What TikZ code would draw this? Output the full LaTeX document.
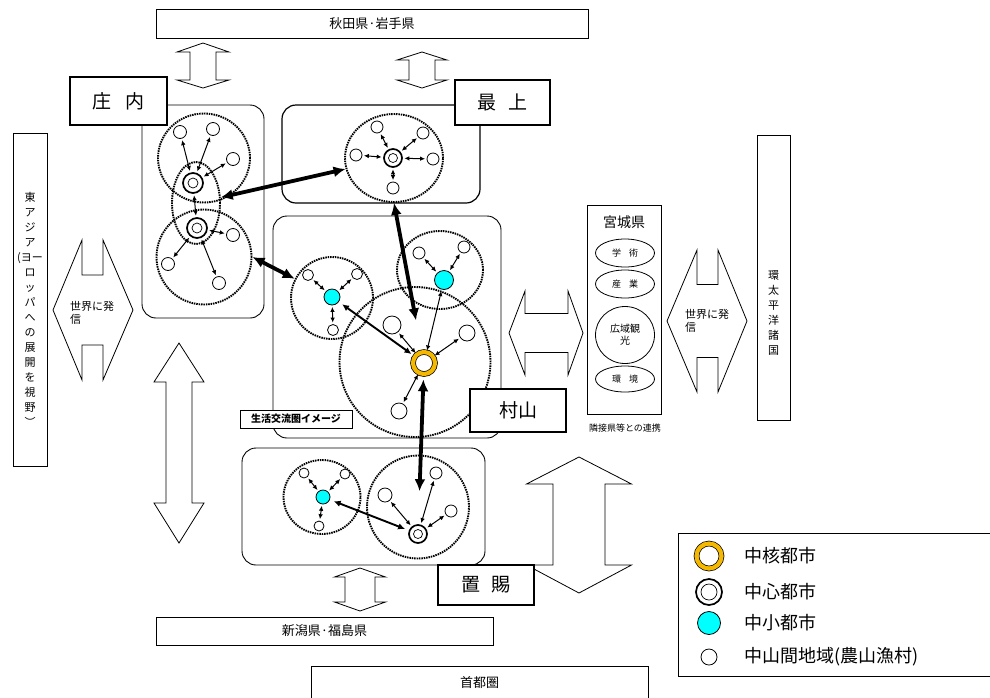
\documentclass[tikz,border=0pt]{standalone}
\usepackage{fontspec}
\setmainfont{Noto Sans CJK JP}
\usetikzlibrary{arrows.meta,positioning,shapes.geometric}

\definecolor{coregold}{RGB}{245,184,0}
\definecolor{citycyan}{RGB}{0,255,255}

\newcommand{\fsz}[1]{\fontsize{#1}{#1}\selectfont}
% up-down block arrow: x, shaft half, head half, top tip, top base, bottom base, bottom tip
\newcommand{\udarrow}[7]{%
  \draw[blockarrow] (#1,#4) -- (#1+#3,#5) -- (#1+#2,#5) -- (#1+#2,#6) -- (#1+#3,#6) -- (#1,#7)
    -- (#1-#3,#6) -- (#1-#2,#6) -- (#1-#2,#5) -- (#1-#3,#5) -- cycle;}
% left-right block arrow: y, shaft half, head half, left tip, left base, right base, right tip
\newcommand{\lrarrow}[7]{%
  \draw[blockarrow] (#4,#1) -- (#5,#1-#3) -- (#5,#1-#2) -- (#6,#1-#2) -- (#6,#1-#3) -- (#7,#1)
    -- (#6,#1+#3) -- (#6,#1+#2) -- (#5,#1+#2) -- (#5,#1+#3) -- cycle;}

\begin{document}
\begin{tikzpicture}[
  x=1pt, y=-1pt,
  area/.style={draw, rounded corners=14pt, line width=0.9pt},
  zone/.style={ellipse, draw, inner sep=0pt, line width=1.9pt, dash pattern=on 1.5pt off 0.9pt},
  namebox/.style={draw, fill=white, line width=1.6pt, font=\fsz{19}},
  bar/.style={draw, fill=white, line width=0.9pt, font=\fsz{13}},
  field/.style={ellipse, draw, line width=0.8pt, inner sep=0pt, align=center, font=\fsz{9}},
  town/.style={circle, draw, fill=white, line width=0.8pt, inner sep=0pt},
  city/.style={circle, draw, fill=citycyan, line width=0.8pt, inner sep=0pt},
  hub/.style={circle, draw, fill=white, line width=1.7pt, inner sep=0pt,
    path picture={\draw[line width=0.7pt] (path picture bounding box.center) circle[radius=#1];}},
  hub/.default=4pt,
  core/.style={circle, draw, line width=0.7pt, double=coregold, double distance=4.2pt, fill=white, inner sep=0pt},
  link/.style={{Latex[length=5pt,width=4.6pt]}-{Latex[length=5pt,width=4.6pt]}, line width=1pt, shorten <=1.5pt, shorten >=1.5pt},
  route/.style={{Latex[length=7pt,width=6.5pt]}-{Latex[length=7pt,width=6.5pt]}, line width=1.9pt, shorten <=4pt, shorten >=4pt},
  trunk/.style={{Latex[length=12pt,width=11pt]}-{Latex[length=12pt,width=11pt]}, line width=3.8pt},
  blockarrow/.style={draw, fill=white, line width=0.8pt},
  vtext/.style={align=center, inner sep=0pt}
]
\useasboundingbox (0,0) rectangle (990,697);

% outer regions
\node[bar, minimum width=432, minimum height=29] (akitaIwate) at (372,23.5) {秋田県·岩手県};
\node[bar, minimum width=337, minimum height=28] (niigataFukushima) at (324.5,631) {新潟県·福島県};
\node[bar, minimum width=337, minimum height=34] (capitalRegion) at (479.5,683) {首都圏};
\node[draw, line width=0.9pt, minimum width=34, minimum height=333,
  label={[vtext, font=\fontsize{11}{15}\selectfont, yshift=-10pt]center:東\\ア\\ジ\\ア\\(ヨー\\ロ\\ッ\\パ\\へ\\の\\展\\開\\を\\視\\野\\︶}] (eastAsia) at (30,299.5) {};
\node[draw, line width=0.9pt, minimum width=33, minimum height=285,
  label={[vtext, font=\fontsize{11}{15}\selectfont, yshift=-35pt]center:環\\太\\平\\洋\\諸\\国}] (pacificRim) at (773.5,277.5) {};

% areas
\node[area, minimum width=122, minimum height=213] (shonaiArea) at (203,211.5) {};
\node[area, line width=1.2pt, minimum width=198, minimum height=98] (mogamiArea) at (381,154) {};
\node[area, minimum width=228, minimum height=222] (murayamaArea) at (387,327) {};
\node[area, minimum width=243, minimum height=117] (okitamaArea) at (363.5,506.5) {};

% block arrows
\udarrow{203}{13}{26}{43}{52}{80}{88}
\udarrow{422}{13}{25}{52}{60}{80}{88}
\udarrow{179}{13}{25}{343}{382}{503}{543}
\udarrow{360}{15}{25.5}{568}{577}{602}{611}
\udarrow{579}{26}{52.5}{457}{484}{565}{593}
\lrarrow{333}{19.5}{42}{509}{525}{568}{583}
\lrarrow{310}{35}{70}{53}{82}{103}{133}
\lrarrow{321}{36.5}{71}{667}{697}{718}{747}
\node[anchor=west, align=left, inner sep=0pt, font=\fontsize{11}{13}\selectfont] (westMessage) at (70,313) {世界に発\\信};
\node[anchor=west, align=left, inner sep=0pt, font=\fontsize{11}{13}\selectfont] (eastMessage) at (685,321) {世界に発\\信};

% Miyagi
\node[draw, line width=0.9pt, minimum width=74, minimum height=209] (miyagiBox) at (624,309.5) {};
\node[font=\fsz{14}] (miyagiTitle) at (624,222) {宮城県};
\node[field, minimum width=59, minimum height=28] (academia) at (625,253) {学\hspace{8pt}術};
\node[field, minimum width=59, minimum height=28] (industry) at (625,284) {産\hspace{8pt}業};
\node[field, minimum width=59, minimum height=57, font=\fontsize{10}{12}\selectfont] (tourism) at (625,335) {広域観\\光};
\node[field, minimum width=59, minimum height=26] (environment) at (625,379) {環\hspace{8pt}境};
\node[font=\fsz{9}] (miyagiCaption) at (625,428) {隣接県等との連携};

% zones
\node[zone, minimum width=92, minimum height=89] (shonaiNorth) at (204,158) {};
\node[zone, minimum width=95, minimum height=95] (shonaiSouth) at (204,257) {};
\node[zone, minimum width=48, minimum height=82] (shonaiCore) at (196,203) {};
\node[zone, minimum width=98, minimum height=88] (mogamiZone) at (394,158) {};
\node[zone, minimum width=151, minimum height=150] (murayamaZone) at (415,362) {};
\node[zone, minimum width=82, minimum height=82] (murayamaWest) at (332,298) {};
\node[zone, minimum width=86, minimum height=78] (murayamaEast) at (440,270) {};
\node[zone, minimum width=77, minimum height=74] (okitamaWest) at (322,497) {};
\node[zone, minimum width=102, minimum height=103] (okitamaEast) at (418,507) {};

% Shonai
\node[hub=5pt, minimum size=20] (shonaiHubN) at (193,183) {};
\node[hub=5pt, minimum size=20] (shonaiHubS) at (197,228) {};
\node[town, minimum size=13] (shonaiA) at (180,132) {};
\node[town, minimum size=13] (shonaiB) at (213,129) {};
\node[town, minimum size=13] (shonaiC) at (233,159) {};
\node[town, minimum size=13] (shonaiD) at (233,235) {};
\node[town, minimum size=13] (shonaiE) at (168,264) {};
\node[town, minimum size=13] (shonaiF) at (219,283) {};

% Mogami
\node[hub=4.5pt, minimum size=18] (mogamiHub) at (393,158) {};
\node[town, minimum size=12] (mogamiA) at (377,127) {};
\node[town, minimum size=12] (mogamiB) at (423,133) {};
\node[town, minimum size=12] (mogamiC) at (356,155) {};
\node[town, minimum size=12] (mogamiD) at (433,159) {};
\node[town, minimum size=12] (mogamiE) at (393,188) {};

% Murayama
\node[core, minimum size=22] (murayamaCore) at (424,363) {};
\node[city, minimum size=16] (murayamaWestCity) at (332,297) {};
\node[city, minimum size=19] (murayamaEastCity) at (444,280) {};
\node[town, minimum size=11] (murayamaWA) at (308,275) {};
\node[town, minimum size=11] (murayamaWB) at (357,274) {};
\node[town, minimum size=11] (murayamaWC) at (333,330) {};
\node[town, minimum size=12] (murayamaEA) at (419,253) {};
\node[town, minimum size=12] (murayamaEB) at (464,247) {};
\node[town, minimum size=18] (murayamaA) at (392,325) {};
\node[town, minimum size=16] (murayamaB) at (467,333) {};
\node[town, minimum size=16] (murayamaC) at (399,411) {};

% Okitama
\node[city, minimum size=14] (okitamaCity) at (323,497) {};
\node[hub=4.5pt, minimum size=18] (okitamaHub) at (418,534) {};
\node[town, minimum size=10] (okitamaWA) at (304,473) {};
\node[town, minimum size=10] (okitamaWB) at (345,474) {};
\node[town, minimum size=10] (okitamaWC) at (319,526) {};
\node[town, minimum size=14] (okitamaEA) at (385,495) {};
\node[town, minimum size=12] (okitamaEB) at (436,473) {};
\node[town, minimum size=12] (okitamaEC) at (451,511) {};

% local links
\draw[link] (shonaiHubN) -- (shonaiA);
\draw[link] (shonaiHubN) -- (shonaiB);
\draw[link] (shonaiHubN) -- (shonaiC);
\draw[link] (shonaiHubN) -- (shonaiHubS);
\draw[link] (shonaiHubS) -- (shonaiD);
\draw[link] (shonaiHubS) -- (shonaiE);
\draw[link] (shonaiHubS) -- (shonaiF);

\draw[link] (mogamiHub) -- (mogamiA);
\draw[link] (mogamiHub) -- (mogamiB);
\draw[link] (mogamiHub) -- (mogamiC);
\draw[link] (mogamiHub) -- (mogamiD);
\draw[link] (mogamiHub) -- (mogamiE);

\draw[link] (murayamaWestCity) -- (murayamaWA);
\draw[link] (murayamaWestCity) -- (murayamaWB);
\draw[link] (murayamaWestCity) -- (murayamaWC);
\draw[link] (murayamaEastCity) -- (murayamaEA);
\draw[link] (murayamaEastCity) -- (murayamaEB);
\draw[link] (murayamaCore) -- (murayamaA);
\draw[link] (murayamaCore) -- (murayamaB);
\draw[link] (murayamaCore) -- (murayamaC);
\draw[link] (murayamaCore) -- (murayamaEastCity);
\draw[route] (murayamaCore) -- (murayamaWestCity);

\draw[link] (okitamaCity) -- (okitamaWA);
\draw[link] (okitamaCity) -- (okitamaWB);
\draw[link] (okitamaCity) -- (okitamaWC);
\draw[link] (okitamaHub) -- (okitamaEA);
\draw[link] (okitamaHub) -- (okitamaEB);
\draw[link] (okitamaHub) -- (okitamaEC);
\draw[route] (okitamaHub) -- (okitamaCity);

% trunk links between areas
\draw[trunk] (shonaiCore) -- (mogamiZone);
\draw[trunk] (shonaiSouth.east) -- (murayamaWest);
\draw[trunk, shorten >=32pt] (mogamiZone.south) -- (murayamaCore);
\draw[trunk, shorten <=33pt, shorten >=5pt] (okitamaHub) -- (murayamaCore);

% area names
\node[namebox, minimum width=97, minimum height=48] (shonaiName) at (118.5,101) {庄\hspace{14pt}内};
\node[namebox, minimum width=95, minimum height=45] (mogamiName) at (502.5,102.5) {最\hspace{12pt}上};
\node[namebox, minimum width=96, minimum height=43] (murayamaName) at (518,410.5) {村山};
\node[namebox, minimum width=96, minimum height=40] (okitamaName) at (486,585) {置\hspace{11pt}賜};
\node[draw, fill=white, line width=0.9pt, minimum width=112, minimum height=18, font=\fsz{10}\bfseries] (lifeAreaTag) at (296,419) {生活交流圏イメージ};

% legend
\node[draw, line width=1pt, minimum width=317, minimum height=143] (legendBox) at (836.5,604.5) {};
\node[core, minimum size=25] (legendCore) at (709,556) {};
\node[hub=8pt, minimum size=26] (legendHub) at (709,592) {};
\node[city, minimum size=23] (legendCity) at (709,623) {};
\node[town, minimum size=16] (legendTown) at (709,657) {};
\node[anchor=west, font=\fsz{18}] (legendCoreText) at (741,556) {中核都市};
\node[anchor=west, font=\fsz{18}] (legendHubText) at (741,592) {中心都市};
\node[anchor=west, font=\fsz{18}] (legendCityText) at (741,623) {中小都市};
\node[anchor=west, font=\fsz{18}] (legendTownText) at (741,657) {中山間地域(農山漁村)};

\end{tikzpicture}
\end{document}
